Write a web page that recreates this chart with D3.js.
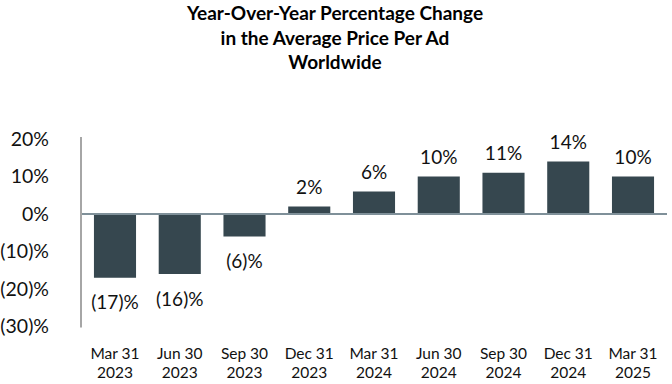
<!DOCTYPE html>
<html>
<head>
<meta charset="utf-8">
<script src="https://cdn.jsdelivr.net/npm/d3@7"></script>
<style>
  body { margin: 0; background: #fff; }
  svg { display: block; font-family: Lato, "Noto Sans", sans-serif; }
</style>
</head>
<body>
<div id="chart"></div>
<script>
  var quarters = ['Mar 31', 'Jun 30', 'Sep 30', 'Dec 31', 'Mar 31', 'Jun 30', 'Sep 30', 'Dec 31', 'Mar 31'];
  var years = ['2023', '2023', '2023', '2023', '2024', '2024', '2024', '2024', '2025'];
  var changes = [-17, -16, -6, 2, 6, 10, 11, 14, 10];
  var yTicks = [20, 10, 0, -10, -20, -30];
  var titleLines = ['Year-Over-Year Percentage Change', 'in the Average Price Per Ad', 'Worldwide'];

  var width = 672, height = 384;
  var barColor = '#36474f';

  var fmt = function(v) {
    return v < 0 ? '(' + Math.abs(v) + ')%' : v + '%';
  };

  var svg = d3.select('#chart').append('svg')
    .attr('width', width)
    .attr('height', height);

  var idx = d3.range(quarters.length);

  var x = d3.scaleBand()
    .domain(idx)
    .range([81, 667])
    .paddingInner(0.35)
    .paddingOuter(0.2);

  var y = d3.scaleLinear()
    .domain([-30, 20])
    .range([326.5, 139]);

  // title
  svg.append('g').selectAll('text')
    .data(titleLines)
    .enter()
    .append('text')
    .attr('x', 335)
    .attr('y', function(d, i) { return 20 + i * 24.5; })
    .attr('text-anchor', 'middle')
    .style('font-size', '19px')
    .style('font-weight', 'bold')
    .style('fill', '#000')
    .text(function(d) { return d; });

  // y tick labels
  svg.append('g').selectAll('text')
    .data(yTicks)
    .enter()
    .append('text')
    .attr('x', 49)
    .attr('y', function(d) { return y(d); })
    .attr('dy', '0.35em')
    .attr('text-anchor', 'end')
    .style('font-size', '19.5px')
    .style('fill', '#111')
    .text(fmt);

  // bars
  svg.append('g').selectAll('rect')
    .data(changes)
    .enter()
    .append('rect')
    .attr('x', function(d, i) { return x(i); })
    .attr('width', x.bandwidth())
    .attr('y', function(d) { return y(Math.max(0, d)); })
    .attr('height', function(d) { return Math.abs(y(d) - y(0)); })
    .attr('fill', barColor);

  // zero line
  svg.append('line')
    .attr('x1', 81).attr('x2', 667)
    .attr('y1', y(0)).attr('y2', y(0))
    .style('stroke', '#7f9099')
    .style('stroke-width', 2);

  // vertical axis
  svg.append('line')
    .attr('x1', 81).attr('x2', 81)
    .attr('y1', y(20) - 2).attr('y2', y(-30) + 1)
    .style('stroke', '#a6a6a6')
    .style('stroke-width', 2);

  // value labels
  svg.append('g').selectAll('text')
    .data(changes)
    .enter()
    .append('text')
    .attr('x', function(d, i) { return x(i) + x.bandwidth() / 2; })
    .attr('y', function(d) { return d < 0 ? y(d) + 25 : y(d) - 19; })
    .attr('dy', '0.35em')
    .attr('text-anchor', 'middle')
    .style('font-size', '19px')
    .style('fill', '#111')
    .text(fmt);

  // category labels
  var cats = svg.append('g').selectAll('text')
    .data(idx)
    .enter()
    .append('text')
    .attr('x', function(i) { return x(i) + x.bandwidth() / 2; })
    .attr('text-anchor', 'middle')
    .style('font-size', '15.5px')
    .style('fill', '#111');

  cats.append('tspan')
    .attr('x', function(i) { return x(i) + x.bandwidth() / 2; })
    .attr('y', 358.5)
    .text(function(i) { return quarters[i]; });

  cats.append('tspan')
    .attr('x', function(i) { return x(i) + x.bandwidth() / 2; })
    .attr('y', 378)
    .text(function(i) { return years[i]; });
</script>
</body>
</html>
